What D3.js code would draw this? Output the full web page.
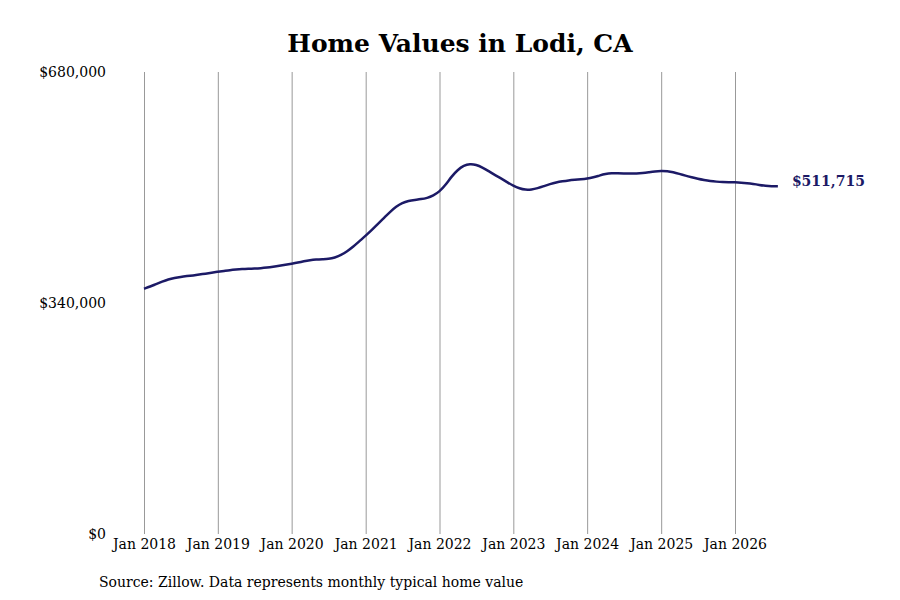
<!DOCTYPE html>
<html>
<head>
<meta charset="utf-8">
<script src="https://cdn.jsdelivr.net/npm/d3@7"></script>
<style>
  body { margin: 0; background: #fff; }
  text { font-family: "DejaVu Serif", serif; }
</style>
</head>
<body>
<div id="chart"></div>
<script>
// monthly typical home value, Jan 2018 onwards
var startMonth = new Date(2018, 0, 1)
var homeValues = [
  361000, 364200, 367800, 371500, 374800, 377000, 378500, 379600, 380600, 381800, 383200, 384600,
  386000, 387200, 388400, 389300, 390000, 390400, 390700, 391200, 392100, 393400, 394900, 396400,
  397900, 399500, 401400, 403000, 404000, 404500, 404800, 406500, 410500, 416000, 423000, 431000,
  439000, 447500, 456000, 465000, 474000, 482000, 487500, 490500, 491800, 492800, 494500, 498000,
  504000, 514000, 526000, 536000, 542500, 544600, 543500, 539500, 534000, 528500, 523500, 518000,
  512500, 508500, 506500, 506800, 509000, 512000, 515000, 517500, 519200, 520500, 521300, 522000,
  523000, 525000, 527500, 530000, 531000, 531000, 530700, 530400, 530500, 531200, 532500, 533800,
  534300, 534000, 532500, 530000, 527500, 525000, 522800, 521000, 519500, 518600, 518000, 517800,
  517600, 517200, 516500, 515300, 513800, 512500, 511800, 511715
]
var tickYears = [2018, 2019, 2020, 2021, 2022, 2023, 2024, 2025, 2026]
var yTicks = [0, 340000, 680000]

var width = 900
var height = 600
var margin = {top: 72, right: 122, bottom: 66, left: 144}
var color = '#1c1a66'

var data = homeValues.map(function(v, i) {
  return {date: d3.timeMonth.offset(startMonth, i), value: v}
})

var svg = d3.select('#chart').append('svg')
  .attr('width', width)
  .attr('height', height)

var x = d3.scaleTime()
  .domain([new Date(2018, 0, 1), new Date(2026, 0, 1)])
  .range([margin.left, 735])

var y = d3.scaleLinear()
  .domain([0, 680000])
  .range([height - margin.bottom, margin.top])

svg.append('text')
  .attr('x', 460)
  .attr('y', 52)
  .attr('text-anchor', 'middle')
  .style('font-size', '25px')
  .style('font-weight', 'bold')
  .text('Home Values in Lodi, CA')

// vertical grid + x labels
var xAxis = d3.axisBottom(x)
  .tickValues(tickYears.map(function(yr) { return new Date(yr, 0, 1) }))
  .tickFormat(d3.timeFormat('Jan %Y'))
  .tickSize(-(y.range()[0] - y.range()[1]))
  .tickPadding(5)

var gx = svg.append('g')
  .attr('transform', 'translate(0,' + y(0) + ')')
  .call(xAxis)
gx.select('.domain').remove()
gx.selectAll('line').attr('stroke', '#999').attr('stroke-width', 1)
gx.selectAll('text').attr('fill', '#000').style('font-size', '14px')

var yAxis = d3.axisLeft(y)
  .tickValues(yTicks)
  .tickFormat(function(d) { return '$' + d3.format(',')(d) })
  .tickSize(0)
  .tickPadding(38)

var gy = svg.append('g')
  .attr('transform', 'translate(' + margin.left + ',0)')
  .call(yAxis)
gy.select('.domain').remove()
gy.selectAll('text').attr('fill', '#000').style('font-size', '14px')

var line = d3.line()
  .x(function(d) { return x(d.date) })
  .y(function(d) { return y(d.value) })
  .curve(d3.curveBasis)

svg.append('path')
  .datum(data)
  .attr('fill', 'none')
  .attr('stroke', color)
  .attr('stroke-width', 2.5)
  .attr('d', line)

var last = data[data.length - 1]
svg.append('text')
  .attr('x', x(last.date) + 14)
  .attr('y', y(last.value) - 5)
  .attr('dy', '0.35em')
  .attr('fill', color)
  .style('font-size', '14px')
  .style('font-weight', 'bold')
  .text('$' + d3.format(',')(last.value))

svg.append('text')
  .attr('x', 99)
  .attr('y', 587)
  .style('font-size', '14px')
  .text('Source: Zillow. Data represents monthly typical home value')
</script>
</body>
</html>
